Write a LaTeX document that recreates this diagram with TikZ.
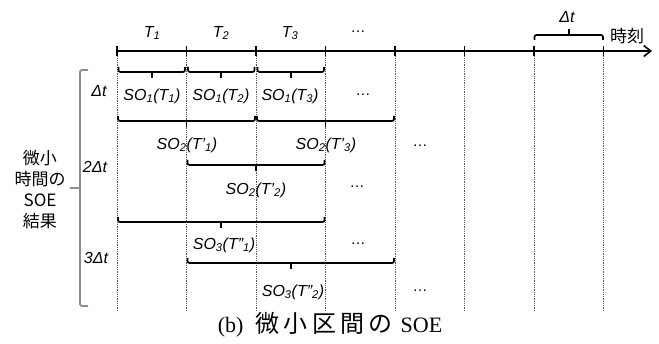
\documentclass[tikz,border=0pt]{standalone}
\usepackage{fontspec}
\setmainfont{Liberation Sans}
\newfontfamily\jpfont{Noto Sans CJK JP}
\newfontfamily\jpcap[LetterSpace=18]{Noto Sans CJK JP}
\newfontfamily\capserif{Liberation Serif}
\usetikzlibrary{arrows.meta}
\newcommand\sbs[1]{\textsubscript{#1}}
% bracket: x1, x2, y of hook ends, direction (+1 tip down, -1 tip up)
\newcommand\bkt[4]{%
  \draw[bkline] (#1,#3) -- (#1,#3+#4*5) -- (#2,#3+#4*5) -- (#2,#3);
  \draw[bktip] ({(#1+#2)/2},#3+#4*5) -- ({(#1+#2)/2},#3+#4*11);
}
\begin{document}
\begin{tikzpicture}[x=1pt,y=-1pt,
  lbl/.style={font=\fontsize{16}{19}\selectfont\itshape, inner sep=0pt},
  dots/.style={font=\fontsize{15}{18}\selectfont, inner sep=0pt},
  gridline/.style={densely dotted, line width=0.8pt, black!65},
  axis/.style={line width=1.6pt},
  bkline/.style={line width=1.7pt, rounded corners=2pt},
  bktip/.style={line width=1.7pt},
  sidebr/.style={line width=1.8pt, black!45, rounded corners=2pt},
]
\useasboundingbox (0,0) rectangle (659,344);

% time ticks and dotted grid
\foreach \i/\x in {0/117,1/186.5,2/256,3/325.5,4/395,5/464.5,6/534,7/603.5}{
  \coordinate (t\i) at (\x,51);
  \coordinate (b\i) at (\x,311);
  \draw[gridline] (t\i) -- (b\i);
}
\coordinate (tend) at (652,51);
\draw[axis,-{Straight Barb[length=7pt,width=11pt]}] (t0) -- (tend);
\foreach \i in {0,...,7}{
  \draw[axis] ([yshift=5pt]t\i) -- ([yshift=-5pt]t\i);
}

% top labels
\node[lbl] (T1) at (152,33) {T\sbs{1}};
\node[lbl] (T2) at (221,33) {T\sbs{2}};
\node[lbl] (T3) at (290,33) {T\sbs{3}};
\node[dots] (d0) at (358,32) {…};
\bkt{534.5}{603}{40}{-1}
\node[lbl] (dt) at (567,17) {Δt};
\node[font=\jpfont\fontsize{17}{20}\selectfont, inner sep=0pt] (jikoku) at (627,36) {時刻};

% row 1 (Δt)
\bkt{118.5}{185}{67}{1}
\bkt{188}{254.5}{67}{1}
\bkt{257.5}{324}{67}{1}
\node[lbl] (r1) at (99,91) {Δt};
\node[lbl] (s11) at (152,96) {SO\sbs{1}(T\sbs{1})};
\node[lbl] (s12) at (221,96) {SO\sbs{1}(T\sbs{2})};
\node[lbl] (s13) at (290,96) {SO\sbs{1}(T\sbs{3})};
\node[dots] (d1) at (363,95) {…};

% row 2 (2Δt)
\bkt{118}{255}{116}{1}
\bkt{257}{394}{116}{1}
\node[lbl] (s21) at (187,145) {SO\sbs{2}(T’\sbs{1})};
\node[lbl] (s23) at (326,145) {SO\sbs{2}(T’\sbs{3})};
\node[dots] (d2) at (420,146) {…};
\bkt{187.5}{324.5}{160}{1}
\node[lbl] (r2) at (95,167) {2Δt};
\node[lbl] (s22) at (256,190) {SO\sbs{2}(T’\sbs{2})};
\node[dots] (d3) at (357,187) {…};

% row 3 (3Δt)
\bkt{118}{324.5}{217}{1}
\node[lbl] (s31) at (224,245) {SO\sbs{3}(T”\sbs{1})};
\node[dots] (d4) at (358,244) {…};
\node[lbl] (r3) at (96,258) {3Δt};
\bkt{187.5}{394}{258}{1}
\node[lbl] (s32) at (293,292) {SO\sbs{3}(T”\sbs{2})};
\node[dots] (d5) at (420,291) {…};

% left bracket and label
\draw[sidebr] (88,70) -- (80,70) -- (80,306) -- (88,306);
\draw[sidebr] (80,188) -- (70,188);
\node[font=\jpfont\fontsize{17}{21}\selectfont, align=center, inner sep=0pt] (side) at (40,190)
  {微小\\時間の\\SOE\\結果};

% caption
\node[inner sep=0pt, font=\capserif\fontsize{22}{26}\selectfont, anchor=base] (cap) at (330,333)
  {(b)\hspace{12pt}{\jpcap\fontsize{24}{26}\selectfont 微小区間の}\hspace{8pt}SOE};
\end{tikzpicture}
\end{document}
